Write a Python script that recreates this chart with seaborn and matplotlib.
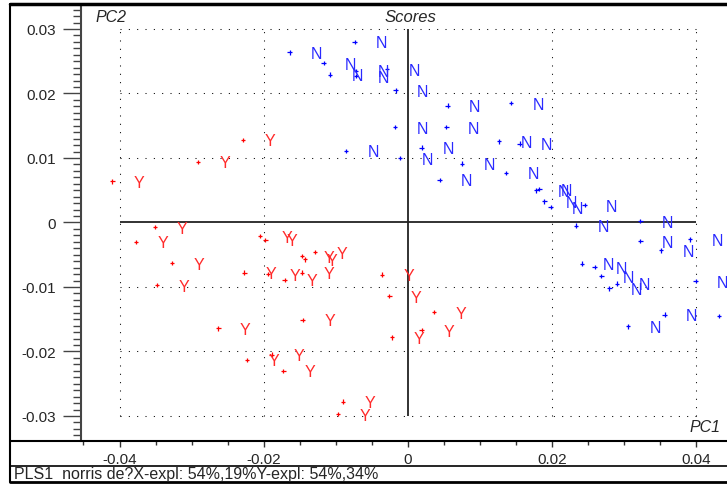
"""Scores plot (PC1 vs PC2) of a PLS1 model, samples labelled N / Y."""
import pandas as pd
import seaborn as sns

from matplotlib import pyplot as plt
from matplotlib.lines import Line2D
from matplotlib.ticker import MultipleLocator


# scores of the samples labelled "N"
n_pc1 = [-0.0164, -0.0074, -0.0117, -0.0108, -0.0072, -0.0072, -0.0029,
         -0.0017, 0.0055, 0.0143, -0.0018, 0.0053, -0.0086, 0.0019,
         -0.0011, 0.0075, 0.0044, 0.0126, 0.0155, 0.0136, 0.0178, 0.0182,
         0.0189, 0.0198, 0.0245, 0.0233, 0.0322, 0.0322, 0.0391, 0.0351,
         0.0241, 0.0259, 0.0268, 0.0279, 0.0290, 0.0399, 0.0431, 0.0305,
         0.0356]
n_pc2 = [0.0264, 0.0280, 0.0247, 0.0229, 0.0235, 0.0227, 0.0238, 0.0205,
         0.0181, 0.0185, 0.0148, 0.0148, 0.0111, 0.0116, 0.0100, 0.0091,
         0.0066, 0.0126, 0.0122, 0.0077, 0.0050, 0.0052, 0.0033, 0.0024,
         0.0027, -0.0005, 0.0002, -0.0029, -0.0026, -0.0043, -0.0064,
         -0.0069, -0.0083, -0.0102, -0.0095, -0.0091, -0.0145, -0.0161,
         -0.0143]

# scores of the samples labelled "Y"
y_pc1 = [-0.0410, -0.0291, -0.0229, -0.0351, -0.0377, -0.0327, -0.0227,
         -0.0205, -0.0198, -0.0147, -0.0143, -0.0129, -0.0194, -0.0171,
         -0.0147, -0.0036, -0.0026, 0.0036, -0.0022, 0.0019, -0.0146,
         -0.0189, -0.0223, -0.0348, -0.0263, -0.0173, -0.0090, -0.0097]
y_pc2 = [0.0064, 0.0094, 0.0128, -0.0007, -0.0030, -0.0063, -0.0078,
         -0.0021, -0.0027, -0.0052, -0.0057, -0.0046, -0.0080, -0.0089,
         -0.0078, -0.0081, -0.0114, -0.0139, -0.0178, -0.0167, -0.0151,
         -0.0205, -0.0213, -0.0097, -0.0164, -0.0230, -0.0278, -0.0297]

x_ticks = [-0.04, -0.02, 0.0, 0.02, 0.04]
x_tick_labels = ["-0.04", "-0.02", "0", "0.02", "0.04"]
y_ticks = [-0.03, -0.02, -0.01, 0.0, 0.01, 0.02, 0.03]
y_tick_labels = ["-0.03", "-0.02", "-0.01", "0", "0.01", "0.02", "0.03"]

status_text = "PLS1  norris de?X-expl: 54%,19%Y-expl: 54%,34%"

W, H = 727, 485


def fx(px):
    return px / W


def fy(py):
    return 1 - py / H


sns.set_style("white")
plt.rcParams["font.family"] = ["Liberation Sans", "DejaVu Sans"]

df = pd.DataFrame({
    "PC1": n_pc1 + y_pc1,
    "PC2": n_pc2 + y_pc2,
    "label": ["N"] * len(n_pc1) + ["Y"] * len(y_pc1),
})

fig = plt.figure(figsize=(W / 100, H / 100), dpi=100, facecolor="white")
ax = fig.add_axes([fx(81), fy(442), fx(735) - fx(81), fy(6) - fy(442)])
ax.set_facecolor("white")

# grid box: dotted at ticks, solid through zero
dot_style = (0, (1, 7))
ax.hlines([v for v in y_ticks if v != 0], x_ticks[0], x_ticks[-1],
          colors="black", linestyles=dot_style, linewidth=0.75, zorder=1)
ax.vlines([v for v in x_ticks if v != 0], y_ticks[0], y_ticks[-1],
          colors="black", linestyles=dot_style, linewidth=0.75, zorder=1)
ax.hlines(0, x_ticks[0], x_ticks[-1], colors="#222222", linewidth=1.3, zorder=1)
ax.vlines(0, y_ticks[0], y_ticks[-1], colors="#222222", linewidth=1.3, zorder=1)

sns.scatterplot(
    data=df, x="PC1", y="PC2", hue="label",
    palette={"N": "#0000ff", "Y": "#ff0000"},
    marker="+", s=11, linewidth=0.9, legend=False, ax=ax, zorder=3,
)

text_colors = {"N": "#2a2aff", "Y": "#ff2a2a"}
for _, row in df.iterrows():
    ax.annotate(
        row["label"], (row["PC1"], row["PC2"]),
        xytext=(19.5, -4), textcoords="offset points",
        ha="center", va="baseline", fontsize=11.5,
        color=text_colors[row["label"]], zorder=4,
    )

ax.set_xlim(-0.04534, 0.04534)
ax.set_ylim(-0.03388, 0.03372)
ax.set_xlabel("")
ax.set_ylabel("")

ax.set_xticks(x_ticks)
ax.set_xticklabels(x_tick_labels)
ax.set_yticks(y_ticks)
ax.set_yticklabels(y_tick_labels)
ax.xaxis.set_minor_locator(MultipleLocator(0.005))
ax.yaxis.set_minor_locator(MultipleLocator(0.001))

ax.tick_params(axis="y", which="major", direction="out", length=13,
               width=1, color="#444444", pad=5, labelsize=11)
ax.tick_params(axis="y", which="minor", direction="out", length=6,
               width=1, color="#444444")
ax.tick_params(axis="x", which="major", direction="out", length=4,
               width=1, color="#333333", pad=4, labelsize=11)
ax.tick_params(axis="x", which="minor", direction="out", length=3,
               width=1, color="#333333")
ax.tick_params(left=True, bottom=True, which="both")

for side in ["top", "right", "bottom"]:
    ax.spines[side].set_visible(False)
ax.spines["left"].set_color("#444444")
ax.spines["left"].set_linewidth(1.5)

# frame lines of the plot window
frame = [
    ((10, 727), (5, 5), 2.5),
    ((10, 10), (5, 483), 1.5),
    ((10, 727), (483, 483), 2.0),
    ((10, 727), (467, 467), 1.2),
    ((10, 727), (442, 442), 1.5),
]
for xs, ys, lw in frame:
    fig.add_artist(Line2D([fx(xs[0]), fx(xs[1])], [fy(ys[0]), fy(ys[1])],
                          color="black", linewidth=lw))

fig.text(fx(95), fy(17), "PC2", fontsize=11.5, style="italic", va="center")
fig.text(fx(410), fy(17), "Scores", fontsize=12, style="italic",
         ha="center", va="center")
fig.text(fx(689), fy(428), "PC1", fontsize=11.5, style="italic", va="center")
fig.text(fx(14), fy(475), status_text, fontsize=11.5, va="center")

fig.savefig("out.png", dpi=100, facecolor="white")
